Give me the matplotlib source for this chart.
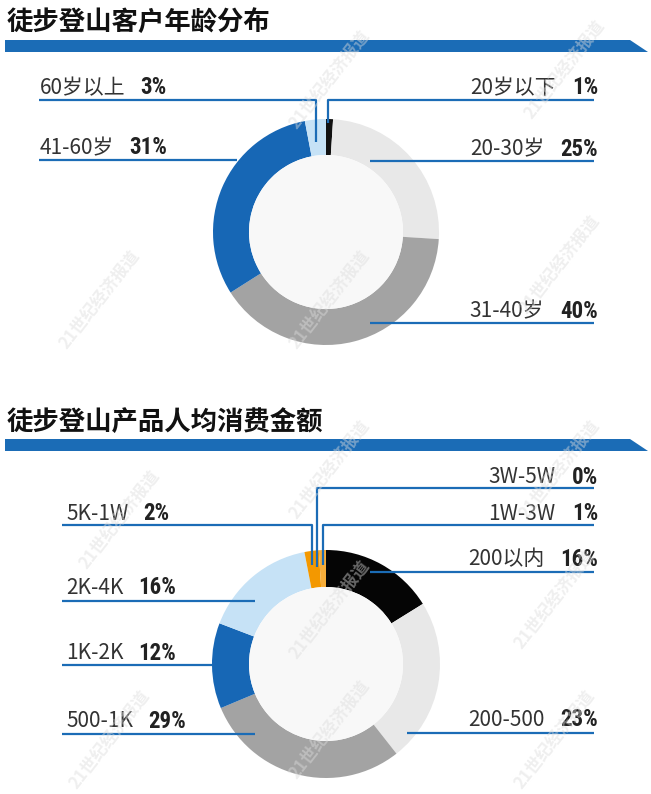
import matplotlib
matplotlib.use("Agg")
import matplotlib.pyplot as plt
from matplotlib.patches import Polygon, Circle

plt.rcParams['font.family'] = ['Noto Sans CJK SC', 'DejaVu Sans']

# ---- data ----
age_title = "徒步登山客户年龄分布"
age_labels = ['20岁以下', '20-30岁', '31-40岁', '41-60岁', '60岁以上']
age_values = [1, 25, 40, 31, 3]
age_colors = ['#111111', '#e8e8e8', '#a3a3a3', '#1767b5', '#c6e2f6']

spend_title = "徒步登山产品人均消费金额"
spend_labels = ['200以内', '200-500', '500-1K', '1K-2K', '2K-4K', '5K-1W', '1W-3W', '3W-5W']
spend_values = [16, 23, 29, 12, 16, 2, 1, 0]
spend_colors = ['#050505', '#e8e8e8', '#a3a3a3', '#1767b5', '#c6e2f6', '#f39800', '#f6ad3a', '#f6ad3a']

# ---- layout (pixel coords, y down) ----
W, H = 651, 794
BLUE = '#1b6cb6'
TXT = '#333333'
PCT_FONT = ['Roboto Condensed', 'Liberation Sans Narrow', 'Roboto', 'DejaVu Sans']

age_layout = {
    '20岁以下': ('R', 88, [(594, 100), (328, 100), (328, 123)]),
    '20-30岁': ('R', 149, [(594, 161), (370, 161)]),
    '31-40岁': ('R', 311, [(594, 323), (370, 323)]),
    '41-60岁': ('L', 148, [(39, 160), (237, 160)]),
    '60岁以上': ('L', 88, [(39, 100), (316, 100), (316, 142)]),
}
spend_layout = {
    '200以内': ('R', 559, [(594, 572), (370, 572)]),
    '200-500': ('R', 720, [(594, 733), (407, 733)]),
    '500-1K': ('L', 721, [(62, 734), (255, 734)]),
    '1K-2K': ('L', 653, [(62, 665), (212, 665)]),
    '2K-4K': ('L', 588, [(62, 601), (255, 601)]),
    '5K-1W': ('L', 514, [(62, 525), (312, 525), (312, 565)]),
    '1W-3W': ('R', 514, [(594, 525), (323, 525), (323, 565)]),
    '3W-5W': ('R', 477, [(594, 488), (317, 488), (317, 567)]),
}

fig = plt.figure(figsize=(W / 100, H / 100), dpi=100)
fig.patch.set_facecolor('white')
ax = fig.add_axes([0, 0, 1, 1])
renderer = fig.canvas.get_renderer()


def header(title, y_text, y_bar):
    ax.text(7, y_text, title, fontsize=19, fontweight='bold', color='#111111',
            ha='left', va='center')
    bar = Polygon([(5, y_bar), (630, y_bar), (648, y_bar + 12), (5, y_bar + 12)],
                  closed=True, facecolor=BLUE, edgecolor='none')
    ax.add_patch(bar)


def donut(values, colors, center, r_out, r_in):
    # y axis is inverted: startangle -90 is the top, counterclock=True runs clockwise on screen
    ax.pie(values, colors=colors, center=center, radius=r_out, startangle=-90,
           counterclock=True, frame=True,
           wedgeprops=dict(width=r_out - r_in, edgecolor='none', linewidth=0))
    ax.add_patch(Circle(center, r_in, facecolor='#f8f8f8', edgecolor='none', zorder=3))


def labels(names, values, layout, left_x):
    for name, val in zip(names, values):
        side, ty, path = layout[name]
        xs = [p[0] for p in path]
        ys = [p[1] for p in path]
        ax.plot(xs, ys, color=BLUE, lw=1.6, solid_capstyle='butt', zorder=4)
        pct = str(val) + '%'
        if side == 'L':
            t = ax.text(left_x, ty, name, fontsize=15, color=TXT, ha='left', va='center')
            bb = t.get_window_extent(renderer)
            ax.text(bb.x1 + 15, ty, pct, fontsize=16.5, fontweight='bold', color='#222222',
                    ha='left', va='center', family=PCT_FONT)
        else:
            p = ax.text(598, ty, pct, fontsize=16.5, fontweight='bold', color='#222222',
                        ha='right', va='center', family=PCT_FONT)
            bb = p.get_window_extent(renderer)
            ax.text(bb.x0 - 16, ty, name, fontsize=15, color=TXT, ha='right', va='center')


ax.set_xlim(0, W)
ax.set_ylim(H, 0)

header(age_title, 22, 40)
header(spend_title, 422, 439)

donut(age_values, age_colors, (326, 232), 113, 77)
donut(spend_values, spend_colors, (326, 664), 114, 77)

ax.set_xlim(0, W)
ax.set_ylim(H, 0)
ax.set_aspect('auto')
ax.axis('off')

labels(age_labels, age_values, age_layout, 40)
labels(spend_labels, spend_values, spend_layout, 66)

# faint watermark
marks = [(330, 80), (565, 70), (330, 300), (560, 265), (100, 300), (330, 470),
         (560, 470), (120, 520), (330, 610), (555, 600), (330, 730), (555, 740), (110, 740)]
for mx, my in marks:
    ax.text(mx, my, '21世纪经济报道', fontsize=12, fontweight='bold', color='#dcdcdc',
            alpha=0.45, rotation=52, ha='center', va='center', zorder=5)

fig.savefig('out.png', dpi=100, facecolor='white')
